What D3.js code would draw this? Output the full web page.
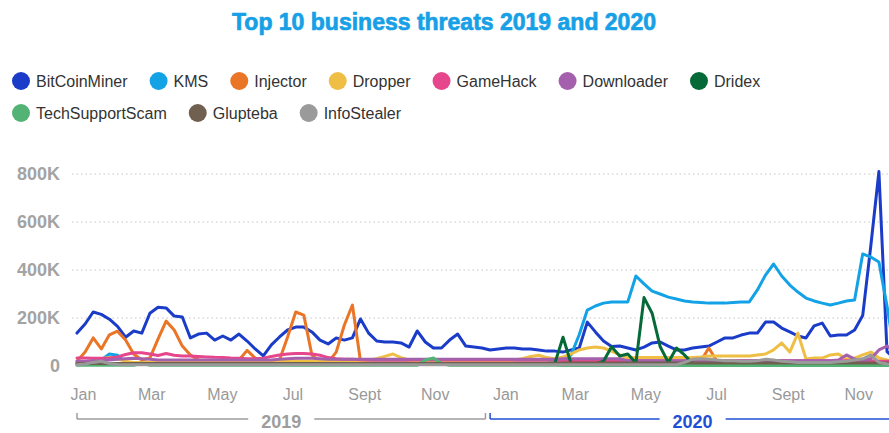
<!DOCTYPE html>
<html><head><meta charset="utf-8">
<script src="https://cdn.jsdelivr.net/npm/d3@7"></script>
<style>
html,body{margin:0;padding:0;background:#fff;}
svg{display:block;font-family:"Liberation Sans",Arial,sans-serif;}
</style></head><body>
<svg id="chart" width="889" height="433"></svg>
<script>
// ---------- DATA (values in thousands, weekly from 1 Jan 2019) ----------
const seriesNames = ["BitCoinMiner","KMS","Injector","Dropper","GameHack","Downloader","Dridex","TechSupportScam","Glupteba","InfoStealer"];
const seriesColors = ["#1a3cc8","#14a2e6","#ea7526","#efbe45","#e6468b","#a560ad","#066a38","#52b375","#6f604f","#9a9a9a"];

const BitCoinMiner = [137,175,225,215,195,165,120,146,137,220,
245,242,208,204,117,133,137,108,125,108,
133,104,71,42,88,121,150,162,162,142,
108,92,117,108,117,196,137,104,100,100,
96,79,146,100,75,75,108,133,83,79,
75,67,71,75,75,71,71,67,62,62,
58,67,75,183,142,104,81,83,75,67,
79,96,100,83,67,67,75,79,83,100,
117,117,129,137,137,183,183,158,142,125,
117,167,179,125,129,129,150,210,500,810,
60,30];
const KMS = [15,15,18,25,50,45,15,12,12,12,
12,12,12,12,12,12,12,12,12,12,
12,12,12,12,12,12,12,12,12,12,
12,12,12,12,12,12,12,12,12,12,
12,12,12,12,12,12,12,12,12,12,
12,12,12,12,12,12,12,12,12,12,
25,46,130,233,250,262,267,267,267,375,
342,312,300,287,279,271,267,265,262,262,
262,265,267,267,317,379,425,375,337,308,
283,271,262,254,262,271,275,467,454,433,
250,40];
const Injector = [20,58,117,71,130,145,108,50,25,33,
112,187,150,83,46,25,18,15,15,15,
25,65,33,15,15,25,121,225,212,46,
15,15,58,170,254,20,12,12,12,12,
12,12,12,12,12,12,12,12,12,12,
12,12,12,12,12,12,12,12,12,12,
12,12,12,12,12,12,12,12,12,12,
12,12,12,12,12,12,12,20,75,20,
12,12,12,12,12,12,12,12,12,12,
12,12,12,12,12,12,12,12,12,12,
12,12];
const Dropper = [12,15,25,30,35,30,20,15,15,15,
15,15,15,18,18,18,18,18,18,18,
18,18,18,20,20,22,22,22,20,20,
20,20,20,20,20,22,25,30,40,50,
35,25,22,20,20,20,20,20,20,20,
22,22,22,22,25,30,40,45,35,30,
38,50,67,75,79,75,62,46,33,35,
35,35,35,35,35,35,35,38,42,42,
42,42,42,42,46,50,67,96,58,137,
29,33,33,46,50,29,33,46,58,33,
25,20];
const GameHack = [33,33,32,32,33,38,48,55,55,50,
44,52,45,42,42,40,38,36,35,33,
32,30,30,32,40,46,50,52,52,50,
45,35,30,28,28,26,25,25,25,25,
25,25,25,25,25,25,25,25,25,25,
25,25,25,25,25,25,25,25,25,25,
22,22,22,22,22,22,22,22,22,22,
22,22,22,22,22,22,22,22,22,22,
22,22,22,22,22,22,22,22,22,22,
22,22,22,22,22,22,22,22,22,20,
20,20];
const Downloader = [20,20,22,22,25,28,30,32,30,28,
25,25,25,25,25,25,25,25,25,25,
25,25,25,25,25,28,30,32,32,32,
30,28,28,28,28,28,28,28,28,28,
28,28,28,28,28,28,28,28,28,28,
28,28,28,28,28,28,28,28,28,28,
30,30,30,30,30,30,30,30,22,22,
22,22,22,22,22,22,22,22,22,22,
22,22,22,22,22,22,22,22,22,22,
22,22,22,22,25,46,29,22,30,67,
83,60];
const Dridex = [8,8,8,8,8,8,8,8,8,8,
8,8,8,8,8,8,8,8,8,8,
8,8,8,8,8,8,8,8,8,8,
8,8,8,8,8,8,8,8,8,8,
8,8,8,8,8,8,8,8,8,8,
8,8,8,8,8,8,8,8,10,12,
120,10,8,8,8,20,80,42,50,12,
285,220,80,15,75,46,10,8,8,8,
8,8,8,8,8,8,8,8,8,8,
8,8,8,8,8,8,8,8,8,8,
8,8];
const TechSupportScam = [3,3,3,3,3,3,3,3,12,3,
3,3,3,3,3,3,3,3,3,3,
3,3,3,3,3,3,3,3,3,3,
3,3,3,3,3,3,3,3,3,3,
3,3,3,25,33,10,3,3,3,3,
3,3,3,3,3,3,3,3,3,3,
2,2,2,2,2,2,2,2,2,2,
2,2,2,2,2,2,2,2,2,2,
2,2,2,2,2,2,2,2,2,2,
2,2,2,2,2,2,2,2,2,2,
2,2];
const Glupteba = [10,10,10,10,10,10,10,10,10,10,
10,10,10,10,10,10,10,10,10,10,
10,10,10,10,10,10,10,10,10,10,
10,10,10,10,10,10,10,10,10,10,
10,10,10,10,10,10,10,10,10,10,
10,10,10,10,10,10,10,10,10,10,
12,12,12,12,12,12,12,12,12,12,
12,12,12,12,12,12,12,12,12,12,
12,12,12,12,12,12,14,12,12,12,
12,12,12,12,12,12,12,12,12,12,
12,12];
const InfoStealer = [5,8,15,20,10,6,5,5,5,5,
5,5,5,5,5,5,5,5,5,5,
5,5,5,5,5,5,5,5,5,5,
5,5,5,5,5,5,5,5,5,5,
5,5,5,5,5,5,5,5,5,5,
5,5,5,5,5,5,5,5,5,5,
5,5,5,5,5,5,5,5,5,5,
5,5,5,5,5,15,28,30,28,25,
22,22,20,20,22,28,25,20,18,15,
15,15,15,15,18,20,25,30,45,15,
8,5];
const seriesValues = [BitCoinMiner,KMS,Injector,Dropper,GameHack,Downloader,Dridex,TechSupportScam,Glupteba,InfoStealer];

const yTickValues = [0,200,400,600,800];
const yTickLabels = ["0","200K","400K","600K","800K"];
const monthTickDates = [[2019,0],[2019,2],[2019,4],[2019,6],[2019,8],[2019,10],[2020,0],[2020,2],[2020,4],[2020,6],[2020,8],[2020,10]];
const monthTickLabels = ["Jan","Mar","May","Jul","Sept","Nov","Jan","Mar","May","Jul","Sept","Nov"];
const yearLabels = ["2019","2020"];
const titleText = "Top 10 business threats 2019 and 2020";

// ---------- LAYOUT ----------
const W = 889, H = 433;
const startDate = new Date(2019,0,1);
const weeks = BitCoinMiner.map((_, i) => d3.timeDay.offset(startDate, 7*i));
const svg = d3.select("#chart");

const x = d3.scaleTime().domain([startDate, weeks[weeks.length-1]]).range([77, 77 + (weeks.length-1)*8.1]);
const y = d3.scaleLinear().domain([0, 800]).range([366, 174]);

// title
svg.append("text").attr("x", 444).attr("y", 30).attr("text-anchor","middle")
  .style("font-size","23px").style("font-weight","bold").attr("fill","#17a0e6")
  .attr("stroke","#17a0e6").attr("stroke-width",0.7).text(titleText);

// legend
const rows = [[0,1,2,3,4,5,6],[7,8,9]];
const rowY = [81, 113];
rows.forEach((row, r) => {
  let cx = 21;
  row.forEach(k => {
    const g = svg.append("g");
    g.append("circle").attr("cx", cx).attr("cy", rowY[r]).attr("r", 9).attr("fill", seriesColors[k]);
    const t = g.append("text").attr("x", cx + 15).attr("y", rowY[r]).attr("dy","0.35em")
      .style("font-size","16px").attr("fill","#333").text(seriesNames[k]);
    const w = t.node().getComputedTextLength();
    cx = cx + 15 + w + 31;
  });
});

// gridlines
svg.append("g").selectAll("line").data(yTickValues.filter(v => v > 0)).join("line")
  .attr("x1", 72).attr("x2", W).attr("y1", d => y(d)).attr("y2", d => y(d))
  .attr("stroke","#d9d9d9").attr("stroke-width",1.5).attr("stroke-dasharray","1.5,3");

// y axis
const yAxis = d3.axisLeft(y).tickValues(yTickValues).tickFormat((d,i) => yTickLabels[i]).tickSize(0).tickPadding(0);
const yg = svg.append("g").attr("transform","translate(60,0)").call(yAxis);
yg.select(".domain").remove();
yg.selectAll("text").style("font-size","18px").style("font-weight","bold").attr("fill","#a3a3a3")
  .style("font-family","'Liberation Sans',Arial,sans-serif");

// x axis (month labels)
const monthDates = monthTickDates.map(d => new Date(d[0], d[1], 1));
const xAxis = d3.axisBottom(x).tickValues(monthDates).tickFormat((d,i) => monthTickLabels[i]).tickSize(0).tickPadding(0);
const xg = svg.append("g").attr("transform","translate(6,389)").call(xAxis);
xg.select(".domain").remove();
xg.selectAll("text").style("font-size","16px").attr("fill","#999")
  .style("font-family","'Liberation Sans',Arial,sans-serif");

// lines
const line = d3.line().x((d,i) => x(weeks[i])).y(d => y(d));
const plot = svg.append("g");
seriesValues.forEach((vals, k) => {
  plot.append("path").datum(vals).attr("d", line)
    .attr("fill","none").attr("stroke", seriesColors[k]).attr("stroke-width", 3)
    .attr("stroke-linejoin","round").attr("stroke-linecap","round");
});

// year brackets
const brackets = [
  {label: yearLabels[0], x1: x(new Date(2019,11,20)), x0: x(startDate), color:"#9d9d9d", endTicks:true},
  {label: yearLabels[1], x0: x(new Date(2019,11,24)), x1: x(weeks[weeks.length-1]), color:"#1f4fd4", endTicks:false}
];
const by = 419;
brackets.forEach(b => {
  const g = svg.append("g");
  g.append("line").attr("x1", b.x0).attr("x2", b.x1).attr("y1", by).attr("y2", by).attr("stroke", b.color).attr("stroke-width", 1.5);
  g.append("line").attr("x1", b.x0).attr("x2", b.x0).attr("y1", by - 6).attr("y2", by).attr("stroke", b.color).attr("stroke-width", 1.5);
  if (b.endTicks) g.append("line").attr("x1", b.x1).attr("x2", b.x1).attr("y1", by - 6).attr("y2", by).attr("stroke", b.color).attr("stroke-width", 1.5);
  const cx = (b.x0 + b.x1) / 2;
  const t = g.append("text").attr("x", cx).attr("y", by + 3).attr("dy","0.35em").attr("text-anchor","middle")
    .style("font-size","18px").style("font-weight","bold").attr("fill", b.color).text(b.label);
  const w = t.node().getComputedTextLength();
  g.insert("rect", "text").attr("x", cx - w/2 - 13).attr("y", by - 8).attr("width", w + 26).attr("height", 16).attr("fill", "#fff");
});
</script>
</body></html>
